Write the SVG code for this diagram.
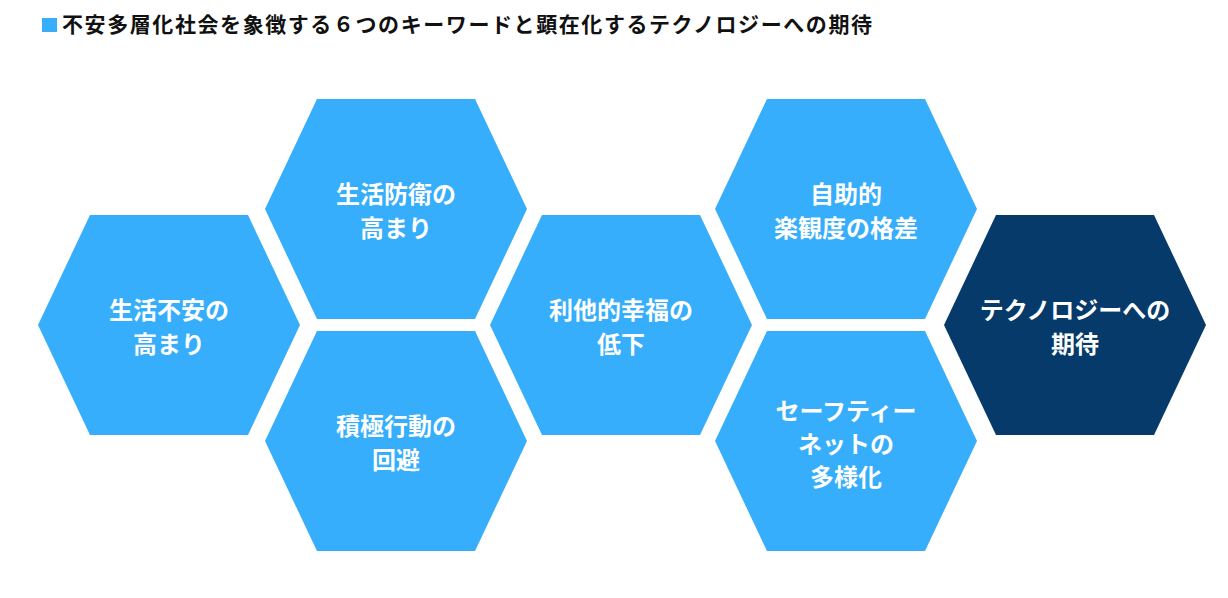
<svg xmlns="http://www.w3.org/2000/svg" xmlns:xlink="http://www.w3.org/1999/xlink" width="1228" height="598" viewBox="0 0 1228 598">
  <style>
    .hex { fill: #36AEFB; }
    .hex.dark { fill: #053A6A; }
    .lbl { font-family: "Noto Sans CJK JP", "Noto Sans", sans-serif; font-weight: 700; font-size: 24px; fill: #FFFFFF; text-anchor: middle; dominant-baseline: central; }
    .title { font-family: "Noto Sans CJK JP", "Noto Sans", sans-serif; font-weight: 700; font-size: 21px; fill: #111111; }
  </style>
  <defs>
    <polygon id="hexshape" points="-131,0 -79,-110 79,-110 131,0 79,110 -79,110"/>
  </defs>
  <rect width="1228" height="598" fill="#FFFFFF"/>
  <g id="title">
    <rect x="42" y="18" width="15" height="14" fill="#36AEFB"/>
    <text class="title" x="62" y="32" textLength="810" lengthAdjust="spacing">不安多層化社会を象徴する６つのキーワードと顕在化するテクノロジーへの期待</text>
  </g>
  <g id="connectors"/>
  <g id="node1" transform="translate(169,325)">
    <use xlink:href="#hexshape" class="hex"/>
    <text class="lbl" x="0" y="-17">生活不安の</text>
    <text class="lbl" x="0" y="17">高まり</text>
  </g>
  <g id="node2" transform="translate(396,209)">
    <use xlink:href="#hexshape" class="hex"/>
    <text class="lbl" x="0" y="-17">生活防衛の</text>
    <text class="lbl" x="0" y="17">高まり</text>
  </g>
  <g id="node3" transform="translate(396,441)">
    <use xlink:href="#hexshape" class="hex"/>
    <text class="lbl" x="0" y="-17">積極行動の</text>
    <text class="lbl" x="0" y="17">回避</text>
  </g>
  <g id="node4" transform="translate(621,325)">
    <use xlink:href="#hexshape" class="hex"/>
    <text class="lbl" x="0" y="-17">利他的幸福の</text>
    <text class="lbl" x="0" y="17">低下</text>
  </g>
  <g id="node5" transform="translate(846,209)">
    <use xlink:href="#hexshape" class="hex"/>
    <text class="lbl" x="0" y="-17">自助的</text>
    <text class="lbl" x="0" y="17">楽観度の格差</text>
  </g>
  <g id="node6" transform="translate(846,441)">
    <use xlink:href="#hexshape" class="hex"/>
    <text class="lbl" x="0" y="-32">セーフティー</text>
    <text class="lbl" x="0" y="1">ネットの</text>
    <text class="lbl" x="0" y="34">多様化</text>
  </g>
  <g id="node7" transform="translate(1075,325)">
    <use xlink:href="#hexshape" class="hex dark"/>
    <text class="lbl" x="0" y="-17">テクノロジーへの</text>
    <text class="lbl" x="0" y="17">期待</text>
  </g>
</svg>
